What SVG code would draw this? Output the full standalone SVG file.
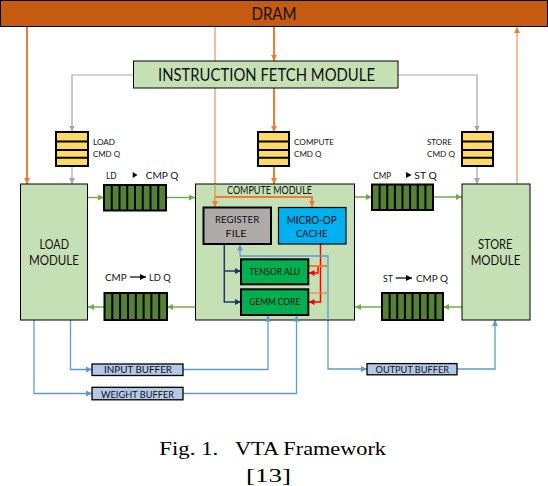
<svg xmlns="http://www.w3.org/2000/svg" width="548" height="486" viewBox="0 0 548 486">
<style>
.t{font-family:Lato,"Liberation Sans",sans-serif;fill:#111;}
.box{fill:#C5E0B4;stroke:#000;stroke-width:1;}
.q{fill:#548235;stroke:#000;stroke-width:2;}
.qd{stroke:#000;stroke-width:2;}
.cq{fill:#FFD966;stroke:#000;stroke-width:2;}
.buf{fill:#B4C7E7;stroke:#000;stroke-width:1.3;}
.or{fill:none;stroke:#ED7D31;stroke-width:2;}
.ort{fill:none;stroke:#ED7D31;stroke-width:1;}
.gr{fill:none;stroke:#A5A5A5;stroke-width:1.2;}
.gn{fill:none;stroke:#70AD47;stroke-width:1.5;}
.bl{fill:none;stroke:#5B9BD5;stroke-width:1.3;}
.nv{fill:none;stroke:#1F3864;stroke-width:1.5;}
.rd{fill:none;stroke:#FF0000;stroke-width:1.5;}
.cap{font-family:"Liberation Serif","Times New Roman",serif;fill:#000;font-size:19px;}
</style>
<defs>
<marker id="aO" viewBox="0 0 10 10" refX="10" refY="5" markerWidth="6" markerHeight="6" markerUnits="userSpaceOnUse" orient="auto"><path d="M0,0 L10,5 L0,10 z" fill="#ED7D31"/></marker>
<marker id="aG" viewBox="0 0 10 10" refX="10" refY="5" markerWidth="6" markerHeight="6" markerUnits="userSpaceOnUse" orient="auto"><path d="M0,0 L10,5 L0,10 z" fill="#A5A5A5"/></marker>
<marker id="aN" viewBox="0 0 10 10" refX="10" refY="5" markerWidth="6" markerHeight="6" markerUnits="userSpaceOnUse" orient="auto"><path d="M0,0 L10,5 L0,10 z" fill="#70AD47"/></marker>
<marker id="aB" viewBox="0 0 10 10" refX="10" refY="5" markerWidth="6" markerHeight="6" markerUnits="userSpaceOnUse" orient="auto"><path d="M0,0 L10,5 L0,10 z" fill="#5B9BD5"/></marker>
<marker id="aV" viewBox="0 0 10 10" refX="10" refY="5" markerWidth="6" markerHeight="6" markerUnits="userSpaceOnUse" orient="auto"><path d="M0,0 L10,5 L0,10 z" fill="#1F3864"/></marker>
<marker id="aR" viewBox="0 0 10 10" refX="10" refY="5" markerWidth="6" markerHeight="6" markerUnits="userSpaceOnUse" orient="auto"><path d="M0,0 L10,5 L0,10 z" fill="#FF0000"/></marker>
<marker id="aK" viewBox="0 0 10 10" refX="10" refY="5" markerWidth="6" markerHeight="6" markerUnits="userSpaceOnUse" orient="auto"><path d="M0,0 L10,5 L0,10 z" fill="#000"/></marker>
</defs>
<rect width="548" height="486" fill="#fff"/>

<g id="connectors">
  <path class="or" d="M27,26 V184" marker-end="url(#aO)"/>
  <path class="ort" d="M215,26 V207" marker-end="url(#aO)"/>
  <path class="or" d="M274,27 V61" marker-end="url(#aO)"/>
  <path class="or" d="M274,88 V132" marker-end="url(#aO)"/>
  <path class="or" d="M274,166 V184" marker-end="url(#aO)"/>
  <path class="ort" d="M517,184 V27" marker-end="url(#aO)"/>
  <path class="gr" d="M133,75 H72 V131.5" marker-end="url(#aG)"/>
  <path class="gr" d="M72,166 V184" marker-end="url(#aG)"/>
  <path class="gr" d="M398,75 H477 V131.5" marker-end="url(#aG)"/>
  <path class="gr" d="M477,166 V184" marker-end="url(#aG)"/>
  <path class="gn" d="M88,197.5 H104" marker-end="url(#aN)"/>
  <path class="gn" d="M166,197.5 H195" marker-end="url(#aN)"/>
  <path class="gn" d="M355,197 H372" marker-end="url(#aN)"/>
  <path class="gn" d="M433,197 H462" marker-end="url(#aN)"/>
  <path class="gn" d="M462,307 H443" marker-end="url(#aN)"/>
  <path class="gn" d="M382,307 H355" marker-end="url(#aN)"/>
  <path class="gn" d="M195,307 H167" marker-end="url(#aN)"/>
  <path class="gn" d="M104,307 H88" marker-end="url(#aN)"/>
  <path class="bl" d="M70.5,320 V369.5 H92" marker-end="url(#aB)"/>
  <path class="bl" d="M34,320 V393.5 H92" marker-end="url(#aB)"/>
  <path class="bl" d="M183,369.5 H268 V315" marker-end="url(#aB)"/>
  <path class="bl" d="M183,393.5 H296.5 V315" marker-end="url(#aB)"/>
  <path class="bl" d="M457,369 H495 V320" marker-end="url(#aB)"/>
  <path class="bl" d="M328,300 V369 H367" marker-end="url(#aB)"/>
</g>

<g id="dram">
  <rect x="0.5" y="0.5" width="547" height="26" fill="#C55A11" stroke="#000" stroke-width="1"/>
  <text class="t" x="251.5" y="20" font-size="17" textLength="45" lengthAdjust="spacingAndGlyphs">DRAM</text>
</g>

<g id="instruction-fetch">
  <rect class="box" x="133.5" y="61" width="264.5" height="27"/>
  <text class="t" x="158" y="81" font-size="17" textLength="217" lengthAdjust="spacingAndGlyphs">INSTRUCTION FETCH MODULE</text>
</g>

<g id="load-cmd-q">
  <rect class="cq" x="56" y="132" width="32" height="34"/>
  <path class="qd" d="M56,141.5 H88 M56,150 H88 M56,157.8 H88"/>
  <text class="t" x="93" y="145" font-size="7.5" textLength="22" lengthAdjust="spacingAndGlyphs">LOAD</text>
  <text class="t" x="93" y="157.3" font-size="7.5" textLength="27" lengthAdjust="spacingAndGlyphs">CMD Q</text>
</g>

<g id="compute-cmd-q">
  <rect class="cq" x="258" y="132" width="31" height="34"/>
  <path class="qd" d="M258,141.5 H289 M258,150 H289 M258,157.8 H289"/>
  <text class="t" x="294" y="145" font-size="7.5" textLength="40" lengthAdjust="spacingAndGlyphs">COMPUTE</text>
  <text class="t" x="294" y="157" font-size="7.5" textLength="27.5" lengthAdjust="spacingAndGlyphs">CMD Q</text>
</g>

<g id="store-cmd-q">
  <rect class="cq" x="462" y="132" width="31" height="34"/>
  <path class="qd" d="M462,141.5 H493 M462,150 H493 M462,157.8 H493"/>
  <text class="t" x="427" y="145" font-size="7.5" textLength="25" lengthAdjust="spacingAndGlyphs">STORE</text>
  <text class="t" x="427" y="157.3" font-size="7.5" textLength="28" lengthAdjust="spacingAndGlyphs">CMD Q</text>
</g>

<g id="load-module">
  <rect class="box" x="20.5" y="184" width="67" height="136"/>
  <text class="t" x="39.5" y="249" font-size="13" textLength="29.5" lengthAdjust="spacingAndGlyphs">LOAD</text>
  <text class="t" x="29" y="265" font-size="13" textLength="50" lengthAdjust="spacingAndGlyphs">MODULE</text>
</g>

<g id="store-module">
  <rect class="box" x="462" y="184" width="68" height="136"/>
  <text class="t" x="478" y="249" font-size="13" textLength="34.5" lengthAdjust="spacingAndGlyphs">STORE</text>
  <text class="t" x="470.7" y="265" font-size="13" textLength="49.6" lengthAdjust="spacingAndGlyphs">MODULE</text>
</g>

<g id="ld-cmp-q">
  <rect class="q" x="104" y="185" width="62" height="25.5"/>
  <path class="qd" d="M111.75,185 V210.5 M119.5,185 V210.5 M127.25,185 V210.5 M135,185 V210.5 M142.75,185 V210.5 M150.5,185 V210.5 M158.25,185 V210.5"/>
  <text class="t" x="106" y="178.5" font-size="9.5" textLength="10.7" lengthAdjust="spacingAndGlyphs">LD</text>
  <polygon points="132.7,172 137.5,175 132.7,178" fill="#000"/>
  <text class="t" x="145.7" y="178.5" font-size="9.5" textLength="32.6" lengthAdjust="spacingAndGlyphs">CMP Q</text>
</g>

<g id="cmp-ld-q">
  <rect class="q" x="104.5" y="293" width="62.5" height="27"/>
  <path class="qd" d="M112.3,293 V320 M120.1,293 V320 M128,293 V320 M135.8,293 V320 M143.6,293 V320 M151.4,293 V320 M159.2,293 V320"/>
  <text class="t" x="105" y="280.5" font-size="9.5" textLength="21.7" lengthAdjust="spacingAndGlyphs">CMP</text>
  <path d="M130,277 H146" stroke="#000" stroke-width="1.2" marker-end="url(#aK)"/>
  <text class="t" x="149" y="280.5" font-size="9.5" textLength="21.7" lengthAdjust="spacingAndGlyphs">LD Q</text>
</g>

<g id="cmp-st-q">
  <rect class="q" x="372" y="184.5" width="61" height="25.5"/>
  <path class="qd" d="M379.6,184.5 V210 M387.25,184.5 V210 M394.9,184.5 V210 M402.5,184.5 V210 M410.1,184.5 V210 M417.75,184.5 V210 M425.4,184.5 V210"/>
  <text class="t" x="373.3" y="178.5" font-size="9.5" textLength="17.7" lengthAdjust="spacingAndGlyphs">CMP</text>
  <polygon points="406,172 411.7,175 406,178" fill="#000"/>
  <text class="t" x="414.3" y="178.5" font-size="9.5" textLength="22.4" lengthAdjust="spacingAndGlyphs">ST Q</text>
</g>

<g id="st-cmp-q">
  <rect class="q" x="382" y="293" width="61" height="27"/>
  <path class="qd" d="M389.6,293 V320 M397.25,293 V320 M404.9,293 V320 M412.5,293 V320 M420.1,293 V320 M427.75,293 V320 M435.4,293 V320"/>
  <text class="t" x="383" y="281.5" font-size="9.5" textLength="10" lengthAdjust="spacingAndGlyphs">ST</text>
  <path d="M395.7,278 H412" stroke="#000" stroke-width="1.2" marker-end="url(#aK)"/>
  <text class="t" x="416" y="281.5" font-size="9.5" textLength="32" lengthAdjust="spacingAndGlyphs">CMP Q</text>
</g>

<g id="compute-module">
  <rect class="box" x="195.5" y="184" width="159" height="136"/>
  <text class="t" x="227" y="194" font-size="10.5" textLength="85" lengthAdjust="spacingAndGlyphs">COMPUTE MODULE</text>
</g>

<g id="compute-inner-connectors">
  <path class="ort" d="M215,184 V207" marker-end="url(#aO)"/>
  <path class="or" d="M215,197 H312 V207" marker-end="url(#aO)"/>
  <path class="nv" d="M224.3,244 V302 H241" marker-end="url(#aV)"/>
  <path class="nv" d="M224.3,271 H241" marker-end="url(#aV)"/>
  <path class="rd" d="M320.5,244 V302 H308.5" marker-end="url(#aR)"/>
  <path class="rd" d="M318,267 V273 H308.5" marker-end="url(#aR)"/>
  <path class="or" d="M308,266 H327"/>
  <path class="ort" d="M308,293 H327"/>
  <path class="bl" d="M328,320 V256 H240 V244.5" marker-end="url(#aB)"/>
  <path class="bl" d="M268,320 V315.5" marker-end="url(#aB)"/>
  <path class="bl" d="M296.5,320 V315.5" marker-end="url(#aB)"/>
</g>

<g id="register-file">
  <rect x="203.5" y="207.5" width="67.5" height="36.5" fill="#AEAAAA" stroke="#000" stroke-width="2"/>
  <text class="t" x="215" y="223.3" font-size="10" textLength="44.3" lengthAdjust="spacingAndGlyphs">REGISTER</text>
  <text class="t" x="225.5" y="236.7" font-size="10" textLength="21" lengthAdjust="spacingAndGlyphs">FILE</text>
</g>

<g id="micro-op-cache">
  <rect x="278.5" y="207.5" width="67.5" height="36.5" fill="#00B0F0" stroke="#000" stroke-width="1.2"/>
  <text class="t" x="286.7" y="224" font-size="11" textLength="50" lengthAdjust="spacingAndGlyphs">MICRO-OP</text>
  <text class="t" x="296" y="237.3" font-size="10" textLength="31.3" lengthAdjust="spacingAndGlyphs">CACHE</text>
</g>

<g id="tensor-alu">
  <rect x="241" y="259.3" width="67.3" height="25" fill="#00B050" stroke="#000" stroke-width="2"/>
  <text class="t" x="249.3" y="274.5" font-size="8.5" textLength="50.7" lengthAdjust="spacingAndGlyphs">TENSOR ALU</text>
</g>

<g id="gemm-core">
  <rect x="241" y="289.3" width="67.3" height="25.7" fill="#00B050" stroke="#000" stroke-width="2"/>
  <text class="t" x="249.3" y="304.5" font-size="8.5" textLength="50.7" lengthAdjust="spacingAndGlyphs">GEMM CORE</text>
</g>

<g id="input-buffer">
  <rect class="buf" x="92" y="364" width="91" height="11.5"/>
  <text class="t" x="104" y="373.4" font-size="9.5" textLength="68" lengthAdjust="spacingAndGlyphs">INPUT BUFFER</text>
</g>

<g id="weight-buffer">
  <rect class="buf" x="92" y="387.3" width="91" height="12.5" stroke-width="2"/>
  <text class="t" x="101" y="397.6" font-size="9.5" textLength="73" lengthAdjust="spacingAndGlyphs">WEIGHT BUFFER</text>
</g>

<g id="output-buffer">
  <rect class="buf" x="367" y="363.6" width="90" height="11.2"/>
  <text class="t" x="375.6" y="373" font-size="9.5" textLength="73.4" lengthAdjust="spacingAndGlyphs">OUTPUT BUFFER</text>
</g>

<g id="caption">
  <text class="cap" x="159.3" y="455" textLength="59" lengthAdjust="spacingAndGlyphs">Fig. 1.</text>
  <text class="cap" x="235" y="455" textLength="151" lengthAdjust="spacingAndGlyphs">VTA Framework</text>
  <text class="cap" x="246" y="482" textLength="45" lengthAdjust="spacingAndGlyphs">[13]</text>
</g>
</svg>
